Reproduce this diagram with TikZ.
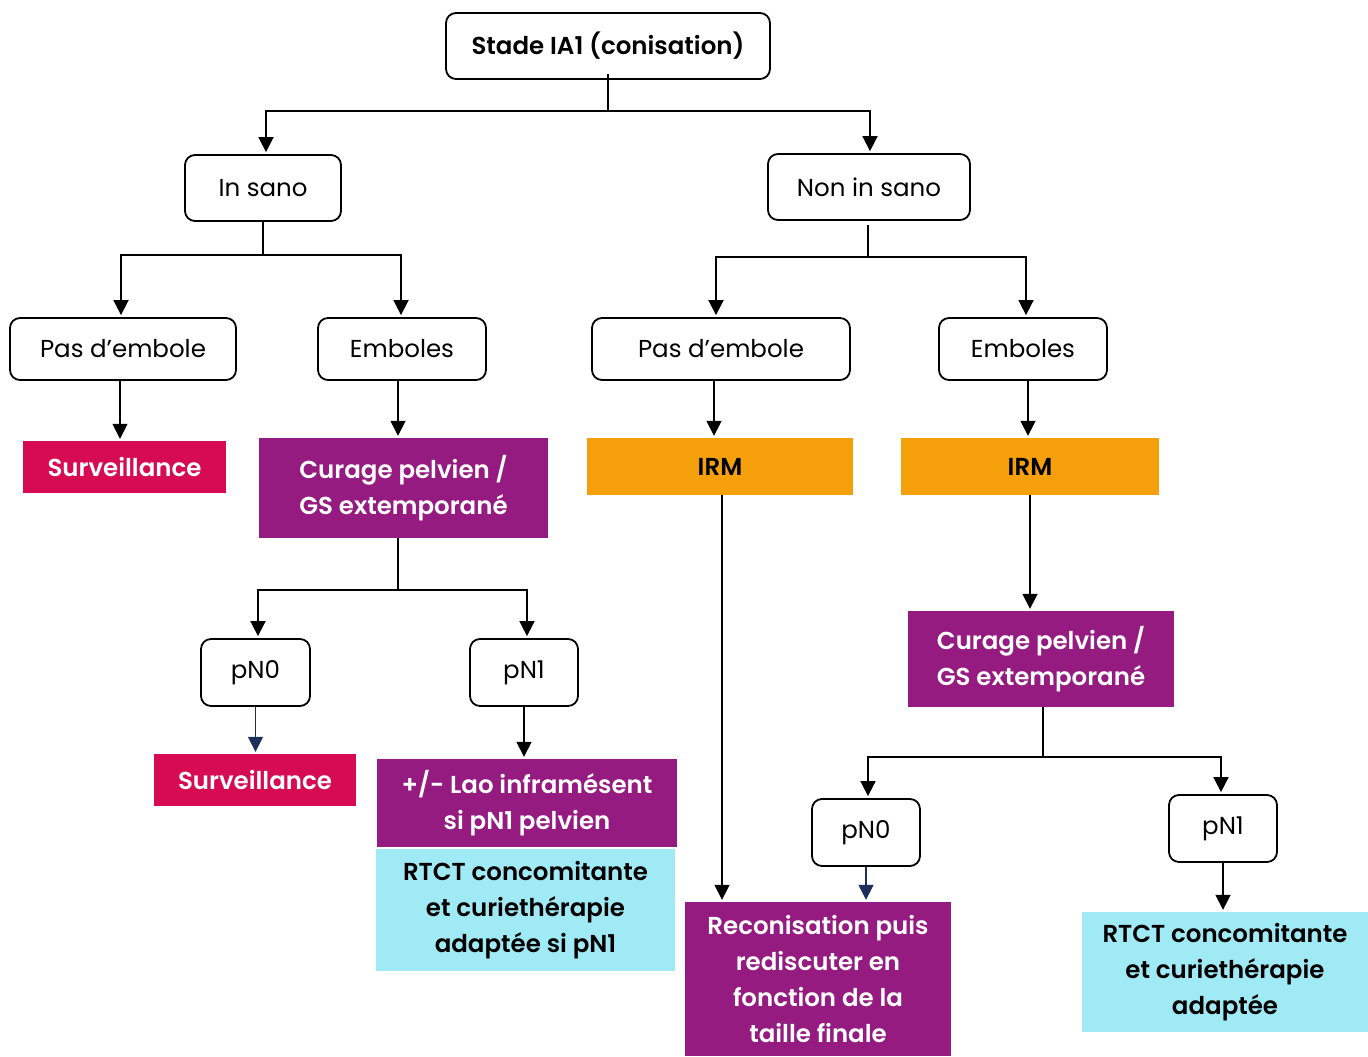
\documentclass[tikz,border=0pt]{standalone}
\usepackage{fontspec}
\setmainfont{Poppins}[BoldFont={Poppins SemiBold}]
\usetikzlibrary{arrows.meta}
\definecolor{crim}{HTML}{D60B52}
\definecolor{purp}{HTML}{951B81}
\definecolor{oran}{HTML}{F5A00A}
\definecolor{cyanb}{HTML}{A0EAF5}
\definecolor{navy}{HTML}{1F2F5C}
\begin{document}
\begin{tikzpicture}[x=1pt,y=-1pt,
  txt/.style={font=\fontsize{24.5}{36}\selectfont, align=center, inner sep=0pt},
  rbox/.style={txt, draw=black, line width=1.8pt, rounded corners=10pt, fill=white},
  fbox/.style={txt, font=\fontsize{24.5}{36}\selectfont\bfseries},
  redbox/.style={fbox, fill=crim, text=white},
  purbox/.style={fbox, fill=purp, text=white},
  orbox/.style={fbox, fill=oran, text=black},
  cybox/.style={fbox, fill=cyanb, text=black},
  link/.style={line width=1.7pt, draw=black},
  arr/.style={link, -{Triangle[width=15pt,length=15pt]}, shorten >=2pt},
  navyarr/.style={arr, draw=navy}
]
\useasboundingbox (0,0) rectangle (1368,1057);

% boxes with outlines
\node[rbox, font=\fontsize{24.5}{36}\selectfont\bfseries, minimum width=324, minimum height=66] (top) at (608,46) {Stade IA1 (conisation)};
\node[rbox, minimum width=156, minimum height=66] (insano) at (263,188) {In sano};
\node[rbox, minimum width=202, minimum height=66] (nonin) at (869,187) {Non in sano};
\node[rbox, minimum width=226, minimum height=62] (pasL) at (123,349) {Pas d'embole};
\node[rbox, minimum width=168, minimum height=62] (embL) at (402,349) {Emboles};
\node[rbox, minimum width=258, minimum height=62] (pasR) at (721,349) {Pas d'embole};
\node[rbox, minimum width=168, minimum height=62] (embR) at (1023,349) {Emboles};
\node[rbox, minimum width=109, minimum height=67] (pn0L) at (255.5,672.5) {pN0};
\node[rbox, minimum width=108, minimum height=67] (pn1L) at (524,672.5) {pN1};
\node[rbox, minimum width=108, minimum height=67] (pn0R) at (866,832.5) {pN0};
\node[rbox, minimum width=108, minimum height=67] (pn1R) at (1223,828.5) {pN1};

% filled boxes
\node[redbox, minimum width=203, minimum height=52] (survL) at (124.5,467) {Surveillance};
\node[purbox, minimum width=289, minimum height=100] (curL) at (403.5,488) {Curage pelvien /\\GS extemporané};
\node[orbox, minimum width=266, minimum height=57] (irm1) at (720,466.5) {IRM};
\node[orbox, minimum width=258, minimum height=57] (irm2) at (1030,466.5) {IRM};
\node[purbox, minimum width=266, minimum height=96] (curR) at (1041,659) {Curage pelvien /\\GS extemporané};
\node[redbox, minimum width=202, minimum height=52] (surv2) at (255,780) {Surveillance};
\node[purbox, minimum width=300, minimum height=88] (lao) at (527,803) {+/- Lao inframésent\\si pN1 pelvien};
\node[cybox, minimum width=299, minimum height=122] (rtctL) at (525.5,910) {RTCT concomitante\\et curiethérapie\\adaptée si pN1};
\node[purbox, minimum width=266, minimum height=154] (recon) at (818,979) {Reconisation puis\\rediscuter en\\fonction de la\\taille finale};
\node[cybox, minimum width=286, minimum height=120] (rtctR) at (1225,972) {RTCT concomitante\\et curiethérapie\\adaptée};

% junction points of the branching connectors
\coordinate (j0) at (608,111);
\coordinate (j1) at (263,255);
\coordinate (j2) at (868,257);
\coordinate (j3) at (398,590);
\coordinate (j4) at (1043,757);

% top level
\draw[link] ([yshift=6pt]top.south) -- (j0);
\draw[arr] (j0) -| ([xshift=3pt]insano.north);
\draw[arr] (j0) -| ([xshift=1pt]nonin.north);

% in sano branch
\draw[link] (insano.south) -- (j1);
\draw[arr] (j1) -| ([xshift=-2pt]pasL.north);
\draw[arr] (j1) -| ([xshift=-1pt]embL.north);
\draw[arr] ([xshift=-3pt]pasL.south) -- ([xshift=-4.5pt]survL.north);
\draw[arr] ([xshift=-4pt]embL.south) -- ([xshift=-5.5pt]curL.north);

% non in sano branch
\draw[link] (nonin.south) ++(-1,4) -- (j2);
\draw[arr] (j2) -| ([xshift=-5pt]pasR.north);
\draw[arr] (j2) -| ([xshift=3pt]embR.north);
\draw[arr] ([xshift=-7pt]pasR.south) -- ([xshift=-6pt]irm1.north);
\draw[arr] ([xshift=5pt]embR.south) -- ([xshift=-2pt]irm2.north);

% curage (left) outcome
\draw[link] ([xshift=-5.5pt]curL.south) -- (j3);
\draw[arr] (j3) -| ([xshift=2.5pt]pn0L.north);
\draw[arr] (j3) -| ([xshift=3pt]pn1L.north);
\draw[navyarr] (pn0L.south) -- ([xshift=0.5pt]surv2.north);
\draw[arr] (pn1L.south) -- ([xshift=-3pt]lao.north);

% IRM outcomes
\draw[arr] ([xshift=2pt]irm1.south) -- ([xshift=2pt]irm1.south |- recon.north);
\draw[arr] (irm2.south) -- (irm2.south |- curR.north);

% curage (right) outcome
\draw[link] ([xshift=2pt]curR.south) -- (j4);
\draw[arr] (j4) -| ([xshift=2pt]pn0R.north);
\draw[arr] (j4) -| ([xshift=-2pt]pn1R.north);
\draw[navyarr] (pn0R.south) -- (pn0R.south |- recon.north);
\draw[arr] (pn1R.south) -- (pn1R.south |- rtctR.north);
\end{tikzpicture}
\end{document}
